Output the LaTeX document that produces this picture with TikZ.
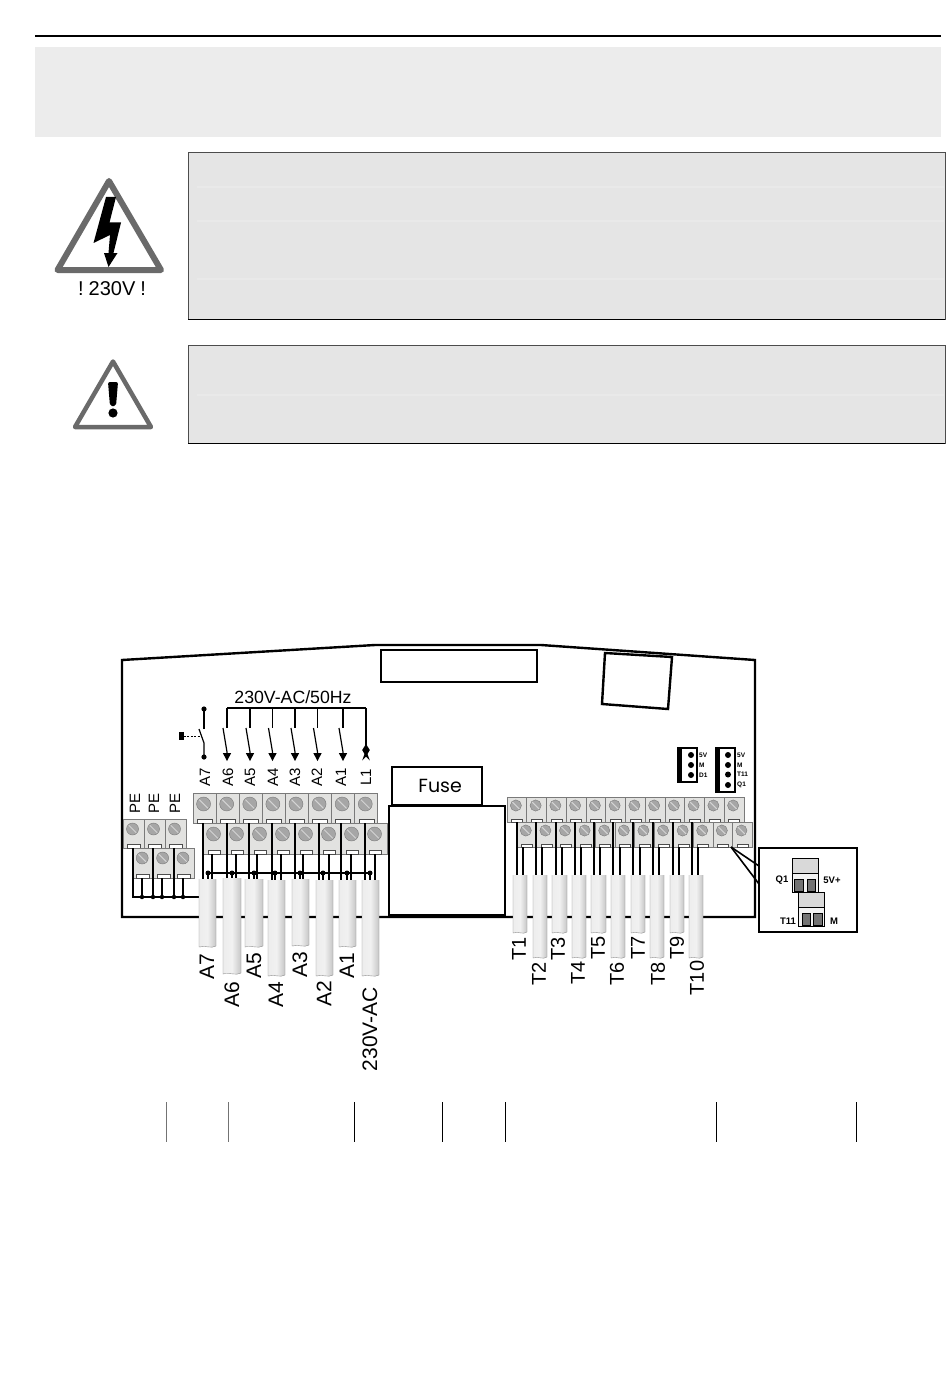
\documentclass[tikz,border=0pt]{standalone}
\usepackage{fontspec}
\setmainfont{Liberation Sans}
\newfontfamily\fusefont{Poppins}
\definecolor{panel}{HTML}{E5E5E5}
\definecolor{panelband}{HTML}{E9E9E9}
\definecolor{banner}{HTML}{ECECEC}
\definecolor{termfill}{HTML}{E2E2E0}
\definecolor{termline}{HTML}{7A7A7A}
\definecolor{screwc}{HTML}{A6A6A6}
\definecolor{slotc}{HTML}{D4D4D4}
\definecolor{warn}{HTML}{6A6A6A}
\definecolor{cableL}{HTML}{EDEDED}
\definecolor{cableM}{HTML}{F1F1F1}
\definecolor{cableR}{HTML}{C6C6C6}
\newcommand{\fsz}[1]{\fontsize{#1}{#1}\selectfont}
% x, y, width, height, screw radius, screw drop, notch width, notch height
\newcommand{\termblock}[8]{%
  \draw[termline,line width=.7,fill=termfill] (#1,#2) rectangle ++(#3,#4);
  \draw[black!70,line width=.5,fill=white] ({#1+#3/2-#7/2},{#2+#4}) rectangle ++(#7,-#8);
  \fill[screwc,draw=termline,line width=.4] ({#1+#3/2-1},{#2+#6}) circle (#5);
  \draw[slotc,line width=1] ({#1+#3/2-1-.62*#5},{#2+#6-.62*#5}) -- ({#1+#3/2-1+.62*#5},{#2+#6+.62*#5});
}
% x1, x2, top, bottom
\newcommand{\cable}[4]{%
  \shade[left color=cableL,right color=cableR,middle color=cableM]
    (#1,#3) -- (#2,#3) -- (#2,#4) .. controls ({#1+.7*(#2-#1)},{#4+3}) and ({#1+.4*(#2-#1)},{#4-1}) .. (#1,{#4+1}) -- cycle;
  \draw[black!45,line width=.4] (#1,#3) -- (#1,{#4+1}) .. controls ({#1+.4*(#2-#1)},{#4-1}) and ({#1+.7*(#2-#1)},{#4+3}) .. (#2,#4) -- (#2,#3);
}
\tikzset{
  board/.style={draw=black,line width=2.4,line join=miter},
  corewire/.style={draw=black,line width=2.2},
  corethin/.style={draw=black,line width=1.7},
  rotlabel/.style={rotate=90,inner sep=0,font=\fsz{21}},
  smalllabel/.style={rotate=90,inner sep=0,font=\fsz{15}},
  tinylabel/.style={anchor=west,inner sep=0,font=\bfseries\fsz{6.5}},
  pinlabel/.style={inner sep=0,font=\bfseries\fsz{9.5}},
}
\begin{document}
\begin{tikzpicture}[x=1pt,y=-1pt]
\useasboundingbox (0,0) rectangle (950,1388);
\fill[white] (0,0) rectangle (950,1388);
% header
\draw[black,line width=2] (35,36) -- (941,36);
\fill[banner] (35,47) rectangle (941,137);
% panels
\fill[panel] (188,152) rectangle (945,319);
\foreach \yy in {187,221,279} {\draw[panelband,line width=1.2] (197,\yy) -- (944,\yy);}
\draw[black!70,line width=.9] (188,152) rectangle (945,319);
\draw[black,line width=.9] (188,319) -- (945,319);
\fill[panel] (188,345) rectangle (945,443);
\draw[panelband,line width=1.2] (197,395) -- (944,395);
\draw[black!70,line width=.9] (188,345) rectangle (945,443);
\draw[black,line width=.9] (188,443) -- (945,443);
% warning triangles
\draw[warn,line width=6,line join=round,fill=white] (109,181) -- (161,270) -- (57.5,270) -- cycle;
\fill[black] (106,197) -- (116,197) -- (109.5,222.5) -- (121,222.5) -- (113.5,253) -- (117.5,253) -- (108.5,267) -- (104,253) -- (108.5,253) -- (110,235) -- (93.5,243) -- cycle;
\node[inner sep=0,font=\fsz{20}] (volt) at (112,289) {!\hspace{5pt}230V\hspace{5pt}!};
\draw[warn,line width=4.5,line join=round,fill=white] (113,361.5) -- (151,427) -- (75,427) -- cycle;
\fill[black,rounded corners=2] (108,382) -- (118,382) -- (116,406) -- (110,406) -- cycle;
\fill[black] (113,413) circle (4.6);
% board
\draw[board] (122,660) -- (375,645) -- (541,645) -- (755,660) -- (755,917) -- (122,917) -- cycle;
\draw[board,fill=white] (381,650) rectangle (537,682);
\draw[board] (605,653) -- (672,657) -- (668,709) -- (602,704) -- cycle;
\node[draw=black,line width=2.4,fill=white,minimum width=90,minimum height=38,inner sep=0,font=\fusefont\fsz{19}] (fuse) at (436.7,786) {\hspace{7pt}Fuse};
\node[draw=black,line width=2.8,fill=white,minimum width=116,minimum height=109,inner sep=0] (xfmr) at (447,860.5) {};
% switches and bracket
\node[inner sep=0,font=\fsz{17.7}] (mains) at (293,697) {230V-AC/50Hz};
\coordinate (brL) at (227,708); \coordinate (brR) at (366,708);
\draw[black,line width=1.5] (brL) -- (brR);
\foreach \x in {227,250,272.5,295,317.5,343}{
  \draw[black,line width=1.3] (\x,708) -- (\x,728);
  \draw[black,line width=1.2] (\x-4,728) -- (\x,752) -- (\x,755);
  \fill[black] (\x-4.2,753) -- (\x+4.2,753) -- (\x,761) -- cycle;
}
\draw[black,line width=1.4] (brR) -- (366,748);
\fill[black] (366,744) -- (369.8,750) -- (367.5,754) -- (369.8,760.5) -- (366,756.5) -- (362.2,760.5) -- (364.5,754) -- (362.2,750) -- cycle;
\fill[black] (204,709) circle (2.6);
\fill[black] (204,757) circle (2.6);
\draw[black,line width=1.2] (204,709) -- (204,729);
\draw[black,line width=1.2] (199,729) -- (204,743) -- (204,757);
\draw[black,line width=.9,dash pattern=on 2pt off 1.4pt] (184,736) -- (201,736);
\fill[black] (179,732) rectangle (184,740);
\foreach \x/\t in {205/A7,228/A6,250/A5,273/A4,295/A3,317/A2,341/A1,366/L1}
  {\node[smalllabel] (top\t) at (\x,777) {\t};}
\foreach \x [count=\i] in {135,154,175}
  {\node[smalllabel] (pe\i) at (\x,803) {PE};}
% terminals: PE
\foreach \i in {0,1,2} {\termblock{123+21*\i}{819}{21}{29}{6}{10}{13}{4}}
\foreach \i in {0,1,2} {\termblock{133+20.4*\i}{848}{20.4}{30}{6}{10}{13}{4}}
% terminals: A row
\foreach \i in {0,...,7} {\termblock{193+23.1*\i}{793}{23.1}{30}{7}{11}{15}{3.5}}
\foreach \i in {0,...,7} {\termblock{203+23*\i}{823}{23}{31}{7}{11}{12}{3.5}}
% terminals: T row
\foreach \i in {0,...,11} {\termblock{507+19.75*\i}{797}{19.75}{25}{5.6}{8.5}{11}{3}}
\foreach \i in {0,...,11} {\termblock{517+19.6*\i}{822}{19.6}{25}{5.6}{8.5}{11}{3}}
% wires: PE
\draw[corewire] (133,848) -- (133,897) -- (199,897);
\foreach \x in {153,174} {\draw[corewire] (\x,848) -- (\x,897);}
\foreach \x in {142,162,183} {\draw[corethin] (\x,878) -- (\x,897);}
\foreach \x in {142,153,162,174,183} {\fill[black] (\x,897) circle (2.2);}
% wires: A
\foreach \x in {203,227,249,272,295,319,341,365} {\draw[corewire] (\x,823) -- (\x,880);}
\foreach \x in {212,236,257,281,303,329,351,375} {\draw[corethin] (\x,854) -- (\x,880);}
\draw[black,line width=2] (207,873) -- (370,873);
\foreach \x in {208,232,254,275,300,323,347,370}{
  \fill[black] (\x,873) circle (2.5);
  \draw[black,line width=1.4] (\x,873) -- (\x,880);
}
% wires: T
\foreach \x in {517,536,556,575,594,613,633,653,673,692} {\draw[corewire] (\x,822) -- (\x,875);}
\foreach \x in {523,542,562,581,600,620,640,659,679,698} {\draw[corethin] (\x,847) -- (\x,875);}
% cables A
\cable{199}{216}{879}{946}
\cable{223}{241}{878}{973}
\cable{245}{263}{879}{946}
\cable{268}{285}{880}{975}
\cable{292}{309}{879}{945}
\cable{316}{333}{880}{975}
\cable{339}{356}{880}{946}
\cable{362}{379}{880}{975}
% cables T
\foreach \a/\b/\c in {513/527/932,533/547/957,552/567/932,572/586/957,591/606/932,611/625/957,631/645/932,650/664/957,670/684/932,689/703/957}
  {\cable{\a}{\b}{875}{\c}}
% cable labels
\foreach \x/\y/\t in {207/967/A7,232/995/A6,254/966/A5,276/995/A4,300/965/A3,324/994/A2,347/966/A1,370/1029/230V-AC}
  {\node[rotlabel] (cab\t) at (\x,\y) {\t};}
\foreach \x/\y/\t in {519/949/T1,539/974/T2,558/949/T3,578/973/T4,598/948/T5,617/974/T6,638/948/T7,658/974/T8,677/948/T9,697/978/T10}
  {\node[rotlabel,font=\fsz{20}] (cab\t) at (\x,\y) {\t};}
% pin headers
\draw[black,line width=1.3,fill=white] (678,748) rectangle (697,782);
\fill[black] (678,748) rectangle (681.5,782);
\foreach \y/\t in {755/5V,765/M,775/D1}{
  \fill[black] (691,\y) circle (3);
  \node[tinylabel] at (699,\y) {\t};
}
\draw[black,line width=1.3,fill=white] (716,748) rectangle (735,792);
\fill[black] (716,748) rectangle (719.5,792);
\foreach \y/\t in {755/5V,765/M,774.5/T11,785/Q1}{
  \fill[black] (728,\y) circle (3);
  \node[tinylabel] at (737,\y) {\t};
}
% callout
\coordinate (tip) at (731,847);
\node[draw=black,line width=2.4,fill=white,minimum width=98,minimum height=84,inner sep=0] (callout) at (808,890) {};
\draw[black,line width=1.6] (tip) -- (759,866);
\draw[black,line width=1.6] (tip) -- (759,884);
\draw[black,line width=.6,fill=black!15] (792,858) rectangle (818,873);
\draw[black,line width=.6,fill=black!5] (792,873) rectangle (818,892);
\fill[black!55,draw=black,line width=.5] (794.5,879) rectangle (803,891);
\fill[black!55,draw=black,line width=.5] (807,879) rectangle (815,891);
\draw[black,line width=.6,fill=black!15] (798,892) rectangle (824,907);
\draw[black,line width=.6,fill=black!5] (798,907) rectangle (824,926);
\fill[black!55,draw=black,line width=.5] (802,913) rectangle (810,925);
\fill[black!55,draw=black,line width=.5] (813,913) rectangle (822,925);
\node[pinlabel] (q1) at (782,880) {Q1};
\node[pinlabel] (vp) at (832,880) {5V+};
\node[pinlabel] (t11) at (788,921) {T11};
\node[pinlabel] (mm) at (834,921) {M};
% dividers
\foreach \x in {166,228.5} {\draw[black!55,line width=1] (\x,1102) -- (\x,1142);}
\foreach \x in {354.5,442.5,505,716,856} {\draw[black,line width=.8] (\x,1102) -- (\x,1142);}
\end{tikzpicture}
\end{document}
